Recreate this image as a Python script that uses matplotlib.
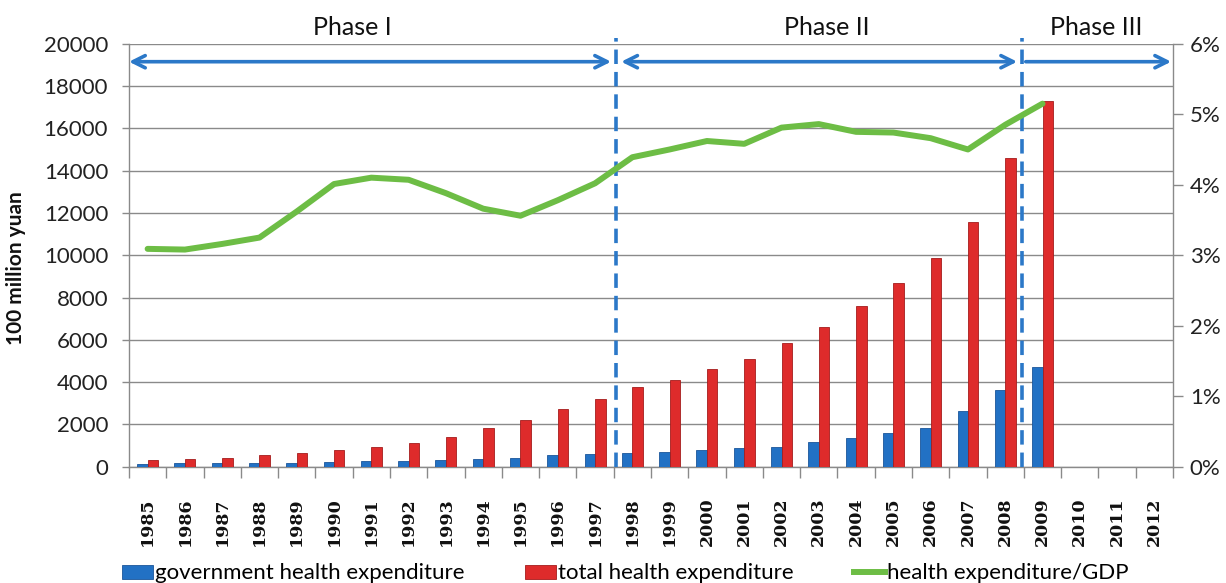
import matplotlib
matplotlib.use("Agg")
import matplotlib.pyplot as plt
from matplotlib.lines import Line2D
from matplotlib.patches import Patch
from matplotlib.ticker import FuncFormatter, FixedLocator
import numpy as np

years = [str(y) for y in range(1985, 2013)]
gov_exp = [130, 170, 180, 185, 195, 235, 250, 290, 310, 370, 420, 530, 600,
           634, 709, 794, 875, 950, 1187, 1347, 1584, 1820, 2638, 3631, 4728]
total_exp = [307, 369, 430, 543, 652, 780, 950, 1125, 1423, 1835, 2227, 2747, 3206,
             3754, 4099, 4605, 5078, 5834, 6591, 7612, 8700, 9853, 11584, 14581, 17270]
gdp_share = [3.09, 3.08, 3.16, 3.25, 3.62, 4.01, 4.10, 4.07, 3.88, 3.66, 3.56, 3.78, 4.02,
             4.39, 4.50, 4.62, 4.58, 4.81, 4.86, 4.75, 4.74, 4.66, 4.50, 4.85, 5.15]
left_ticks = [0, 2000, 4000, 6000, 8000, 10000, 12000, 14000, 16000, 18000, 20000]
right_ticks = [0, 1, 2, 3, 4, 5, 6]
phase_labels = ["Phase I", "Phase II", "Phase III"]
phase_bounds = [12.55, 23.45]

plt.rcParams['font.family'] = ['Lato', 'DejaVu Sans']

BLUE = '#2271c4'
RED = '#de2b2b'
GREEN = '#6dbd45'
ARROW = '#2b78c8'
GRID = '#8a8a8a'

fig = plt.figure(figsize=(12.26, 5.83), dpi=100)
ax = fig.add_axes([0.1052, 0.1995, 0.9568 - 0.1052, 0.925 - 0.1995])

x = np.arange(len(years))
n = len(gov_exp)
bw = 0.28
ax.bar(x[:n] - bw / 2, gov_exp, width=bw, color=BLUE, edgecolor='#1a559a', linewidth=0.6, zorder=3)
ax.bar(x[:n] + bw / 2, total_exp, width=bw, color=RED, edgecolor='#a51c1c', linewidth=0.6, zorder=3)

ax.set_xlim(-0.5, len(years) - 0.5)
ax.set_ylim(0, 20000)
ax.set_yticks(left_ticks)
ax.set_yticklabels([str(v) for v in left_ticks], fontsize=16, color='#222222')
ax.yaxis.grid(True, color=GRID, linewidth=1.0, zorder=0)
ax.set_axisbelow(True)
ax.tick_params(axis='y', length=5, width=1, color=GRID, pad=10)

ax.set_xticks(x)
ax.set_xticklabels(years, rotation=90, fontsize=12.5, family='DejaVu Serif',
                   fontweight='bold', color='#111111')
ax.xaxis.set_minor_locator(FixedLocator(np.arange(-0.5, len(years), 1.0)))
ax.tick_params(axis='x', which='major', length=0, pad=22)
ax.tick_params(axis='x', which='minor', length=8, width=1, color=GRID)

for s in ['top', 'right']:
    ax.spines[s].set_visible(False)
for s in ['left', 'bottom']:
    ax.spines[s].set_color(GRID)
    ax.spines[s].set_linewidth(1.0)

ax.set_ylabel("100 million yuan", fontsize=15, fontweight='bold', color='#111111')
ax.yaxis.set_label_coords(-0.099, 0.47)

ax2 = ax.twinx()
ax2.plot(x[:len(gdp_share)], gdp_share, color=GREEN, linewidth=4.3,
         solid_capstyle='round', solid_joinstyle='round', zorder=5)
ax2.set_ylim(0, 6)
ax2.set_yticks(right_ticks)
ax2.yaxis.set_major_formatter(FuncFormatter(lambda v, p: f"{int(v)}%"))
ax2.tick_params(axis='y', length=7, width=1, color=GRID, pad=5, labelsize=16, labelcolor='#222222')
for s in ['top', 'left', 'bottom']:
    ax2.spines[s].set_visible(False)
ax2.spines['right'].set_color(GRID)
ax2.spines['right'].set_linewidth(1.0)

# phase separators
for b in phase_bounds:
    ax.plot([b, b], [0, 20250], color=ARROW, linewidth=2.6, linestyle=(0, (4, 2.2)),
            clip_on=False, zorder=6)

# phase arrows
arrow_y = 19150
spans = [(-0.5, 12.43, '<->'), (12.7, 23.32, '<->'), (23.55, 27.45, '->')]
for (a, b, st) in spans:
    ax.annotate('', xy=(b, arrow_y), xytext=(a, arrow_y),
                arrowprops=dict(arrowstyle=st, color=ARROW, lw=2.6,
                                mutation_scale=22, shrinkA=0, shrinkB=0),
                annotation_clip=False, zorder=7)

label_x = [5.5, 18.2, 25.45]
for lx, lab in zip(label_x, phase_labels):
    ax.text(lx, 20750, lab, fontsize=18, ha='center', va='center', color='#111111',
            clip_on=False)

handles = [Patch(facecolor=BLUE, edgecolor='#1a559a', linewidth=0.6),
           Patch(facecolor=RED, edgecolor='#a51c1c', linewidth=0.6),
           Line2D([0], [0], color=GREEN, linewidth=4.3)]
labels = ["government health expenditure", "total health expenditure", "health expenditure/GDP"]
fig.legend(handles, labels, loc='lower center', bbox_to_anchor=(0.51, -0.035), ncol=3,
           frameon=False, fontsize=16, handlelength=1.4, handleheight=0.6,
           handletextpad=0.1, columnspacing=2.7)

fig.savefig("out.png", dpi=100)
